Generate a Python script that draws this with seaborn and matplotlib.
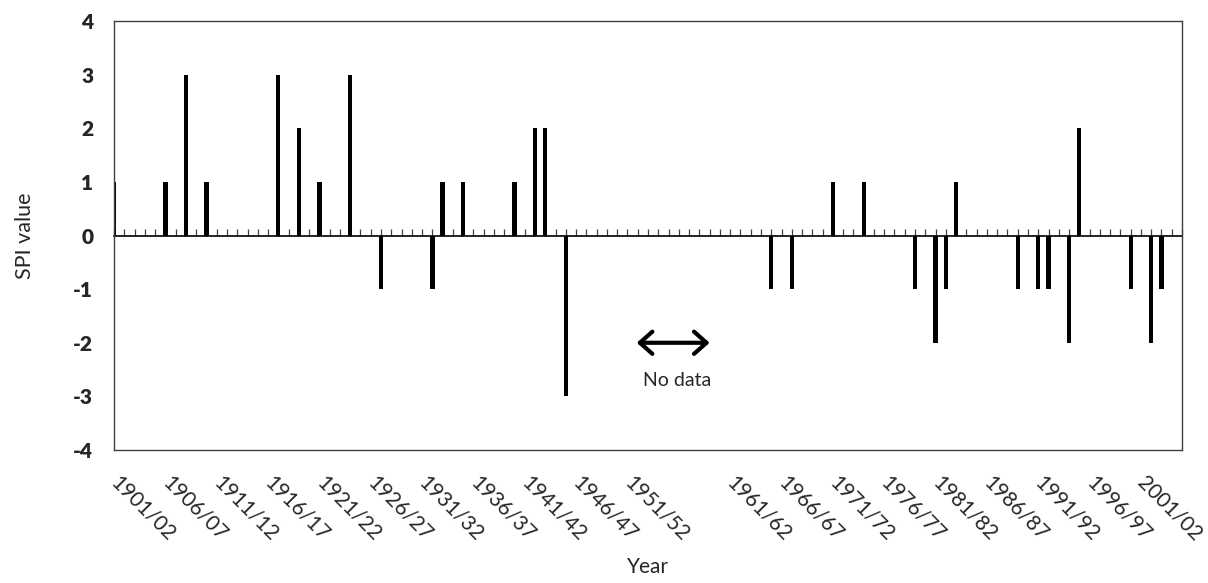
import matplotlib
matplotlib.use('Agg')
import matplotlib.pyplot as plt
import seaborn as sns
import pandas as pd
import numpy as np

sns.set_theme(style='white')
plt.rcParams['font.family'] = ['Lato', 'DejaVu Sans']
plt.rcParams['axes.unicode_minus'] = False

# seasons 1901/02 .. 2005/06 (start year of each season)
start_years = list(range(1901, 2006))
season_labels = [f"{y}/{(y + 1) % 100:02d}" for y in start_years]

# seasons with a non-zero SPI value
event_years = [1901, 1906, 1908, 1910, 1917, 1919, 1921, 1924, 1927, 1932, 1933, 1935,
               1940, 1942, 1943, 1945, 1965, 1967, 1971, 1974, 1979, 1981, 1982, 1983,
               1989, 1991, 1992, 1994, 1995, 2000, 2002, 2003]
event_spi = [1, 1, 3, 1, 3, 2, 1, 3, -1, -1, 1, 1,
             1, 2, 2, -3, -1, -1, 1, 1, -1, -2, -1, 1,
             -1, -1, -1, -2, 2, -1, -2, -1]
no_data_years = list(range(1952, 1961))

tick_labels = ['1901/02', '1906/07', '1911/12', '1916/17', '1921/22', '1926/27',
               '1931/32', '1936/37', '1941/42', '1946/47', '1951/52', '',
               '1961/62', '1966/67', '1971/72', '1976/77', '1981/82', '1986/87',
               '1991/92', '1996/97', '2001/02']
y_ticks = [-4, -3, -2, -1, 0, 1, 2, 3, 4]

spi = pd.Series(0.0, index=start_years)
spi[event_years] = event_spi
spi[no_data_years] = np.nan
df = pd.DataFrame({'season': season_labels, 'spi': spi.values})

fig = plt.figure(figsize=(12.08, 5.83), dpi=100)
ax = fig.add_axes([0.0944, 0.2281, 0.8841, 0.7359])

sns.barplot(data=df, x='season', y='spi', order=season_labels, color='black',
            saturation=1, width=0.42, linewidth=0, errorbar=None, ax=ax)

ax.set_xlim(0, len(season_labels) - 1)
ax.set_ylim(-4, 4)

# year labels under the plot
ax.set_xticks(np.arange(0, len(tick_labels) * 5, 5), tick_labels, rotation=-45,
              ha='left', va='center', rotation_mode='anchor', fontsize=15)
ax.tick_params(axis='x', length=0, pad=21)

ax.set_yticks(y_ticks, [str(v) for v in y_ticks], fontsize=15, fontweight='heavy')
ax.tick_params(axis='y', direction='in', length=5, width=1, color='#404040', pad=15)

for s in ax.spines.values():
    s.set_visible(True)
    s.set_color('#404040')
    s.set_linewidth(1)

# zero line with a small tick for every season
sec = ax.secondary_xaxis(0.5)
sec.set_xticks(np.arange(len(season_labels)))
sec.tick_params(axis='x', direction='out', length=5, width=0.9, color='#404040',
                labeltop=False, labelbottom=False)
sec.spines['top'].set_color('black')
sec.spines['top'].set_linewidth(1.2)

ax.set_xlabel('Year', fontsize=15)
ax.set_ylabel('SPI value', fontsize=15.5)
ax.xaxis.set_label_coords(0.5, -0.25)
ax.yaxis.set_label_coords(-0.074, 0.5)

# no-data marker
ax.annotate('', xy=(58.0, -2), xytext=(50.9, -2),
            arrowprops=dict(arrowstyle='<->,head_length=0.9,head_width=0.8',
                            mutation_scale=10, lw=3, color='black',
                            shrinkA=0, shrinkB=0))
ax.text(54.8, -2.7, 'No data', ha='center', va='center', fontsize=14)

fig.savefig('out.png', dpi=100)
